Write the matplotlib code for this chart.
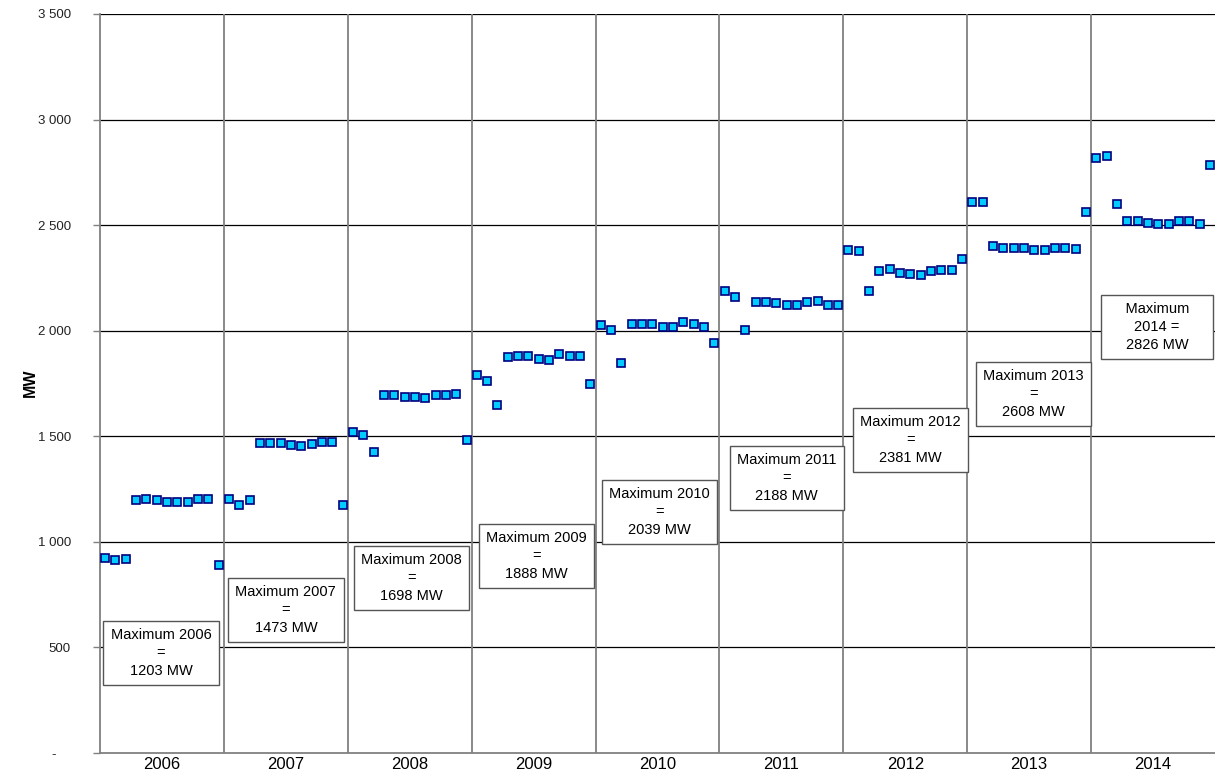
import numpy as np
import matplotlib.pyplot as plt

plt.rcParams['font.family'] = ['Liberation Sans', 'DejaVu Sans']

# monthly peak load, MW (Jan..Dec) per year
years = [2006, 2007, 2008, 2009, 2010, 2011, 2012, 2013, 2014]
peak_2006 = [923, 914, 917, 1200, 1201, 1197, 1188, 1188, 1191, 1203, 1202, 892]
peak_2007 = [1205, 1173, 1200, 1468, 1470, 1470, 1457, 1455, 1463, 1473, 1473, 1175]
peak_2008 = [1519, 1508, 1424, 1695, 1694, 1688, 1685, 1683, 1695, 1695, 1698, 1482]
peak_2009 = [1789, 1763, 1650, 1877, 1879, 1879, 1866, 1863, 1888, 1880, 1880, 1748]
peak_2010 = [2029, 2002, 1845, 2030, 2030, 2032, 2016, 2016, 2039, 2030, 2018, 1942]
peak_2011 = [2188, 2161, 2003, 2135, 2138, 2133, 2123, 2123, 2138, 2139, 2123, 2123]
peak_2012 = [2381, 2376, 2190, 2284, 2294, 2275, 2270, 2265, 2284, 2286, 2288, 2341]
peak_2013 = [2608, 2608, 2403, 2392, 2392, 2392, 2381, 2382, 2393, 2393, 2387, 2564]
peak_2014 = [2820, 2826, 2600, 2520, 2520, 2512, 2505, 2504, 2520, 2520, 2507, 2785]

yearly_max = [1203, 1473, 1698, 1888, 2039, 2188, 2381, 2608, 2826]

y_ticks = [0, 500, 1000, 1500, 2000, 2500, 3000, 3500]
y_labels = ['-    ', '500', '1 000', '1 500', '2 000', '2 500', '3 000', '3 500']

all_peaks = (peak_2006 + peak_2007 + peak_2008 + peak_2009 + peak_2010
             + peak_2011 + peak_2012 + peak_2013 + peak_2014)
months = np.arange(len(all_peaks)) + 0.5

fig = plt.figure(figsize=(12.15, 7.72), dpi=100)
ax = fig.add_axes([100/1215, 19/772, 1115/1215, 739/772])

# grid: black horizontal, grey year separators
for v in y_ticks[1:]:
    ax.axhline(v, color='black', lw=0.9, zorder=1)
for k in range(1, len(years)):
    ax.axvline(12*k, color='#808080', lw=1.3, zorder=1)

ax.plot(months, all_peaks, 's', ms=6.0, mfc='#00CCFF', mec='#000080',
        mew=1.2, zorder=3, clip_on=False)

# label boxes (centre in month / MW units)
box_pos = [(5.9, 474), (18.0, 677), (30.2, 829), (42.3, 933), (54.2, 1141),
           (66.5, 1302), (78.5, 1482), (90.4, 1700), (102.4, 2018)]
for i, (yr, mx) in enumerate(zip(years, yearly_max)):
    if yr == 2014:
        txt = '    Maximum    \n%d =\n%d MW' % (yr, mx)
    else:
        txt = 'Maximum %d\n=\n%d MW' % (yr, mx)
    ax.text(box_pos[i][0], box_pos[i][1], txt, ha='center', va='center',
            fontsize=10.5, linespacing=1.35, zorder=4,
            bbox=dict(boxstyle='square,pad=0.5', fc='white', ec='#555555', lw=1))

ax.set_xlim(0, 108)
ax.set_ylim(0, 3500)
ax.set_xticks([12*k + 6 for k in range(len(years))])
ax.set_xticklabels([str(y) for y in years], fontsize=12)
ax.tick_params(axis='x', length=0, pad=3)
ax.set_yticks(y_ticks)
ax.set_yticklabels(y_labels, fontsize=9.5, color='#222222')
ax.tick_params(axis='y', length=5, width=1, color='#808080', pad=16)
fig.text(30/1215, 1 - 383/772, 'MW', rotation=90, fontsize=11.5,
         fontweight='bold', ha='center', va='center')

for s in ['top', 'right']:
    ax.spines[s].set_visible(False)
ax.spines['left'].set_color('#808080')
ax.spines['left'].set_linewidth(1.3)
ax.spines['bottom'].set_color('#808080')
ax.spines['bottom'].set_linewidth(1.3)

fig.savefig('out.png', dpi=100)
